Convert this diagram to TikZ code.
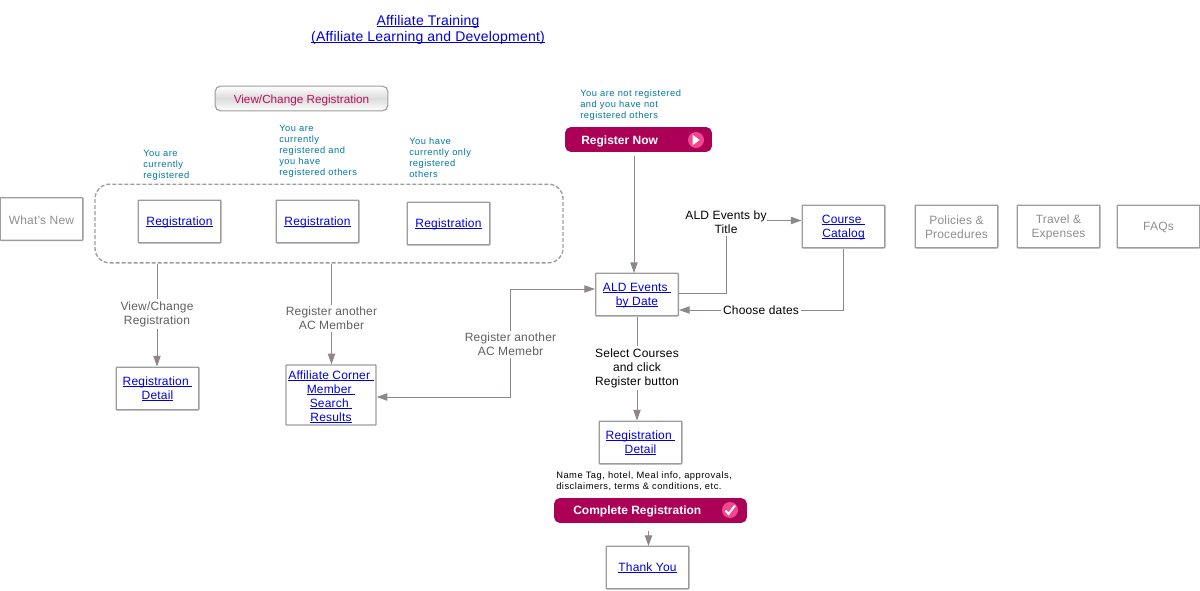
\documentclass[tikz,border=0pt]{standalone}
\usepackage{fontspec}
\setmainfont[LetterSpace=1.5,BoldFeatures={LetterSpace=0}]{Liberation Sans}
\newfontfamily\spacedfont[LetterSpace=5.5]{Liberation Sans}
\usetikzlibrary{arrows.meta}
\definecolor{linegray}{HTML}{8F8787}
\definecolor{boxgray}{HTML}{9C9C9C}
\definecolor{mutedgray}{HTML}{8E8E8E}
\definecolor{labelgray}{HTML}{5F5F5F}
\definecolor{linkblue}{HTML}{0000E0}
\definecolor{noteteal}{HTML}{00789C}
\definecolor{btnred}{HTML}{AB0056}
\definecolor{btnpink}{HTML}{F2478F}
\definecolor{viewred}{HTML}{B5115F}
\newcommand{\lnk}[1]{{\color{linkblue}\setbox0=\hbox{#1}\rlap{\rule[-1.1pt]{\wd0}{.55pt}}\box0}}
\newcommand{\down}[1]{\raisebox{-.75pt}[\height][\depth]{#1}}
\tikzset{
  box/.style={draw=boxgray, line width=1pt, rounded corners=.5pt, minimum width=62pt, minimum height=32pt, inner sep=0pt, align=center, font=\fontsize{9}{10.5}\selectfont},
  mutedbox/.style={box, text=mutedgray},
  edgelabel/.style={align=center, inner sep=1.5pt, font=\fontsize{9}{10.5}\selectfont},
  note/.style={align=left, anchor=north west, inner sep=0pt, text=noteteal, font=\fontsize{7}{8.25}\selectfont\spacedfont},
  blacknote/.style={note, text=black},
  button/.style={fill=btnred, rounded corners=4pt, minimum height=18.5pt, inner sep=0pt},
  btntext/.style={anchor=west, inner sep=0pt, text=white, font=\fontsize{9}{10.5}\selectfont\bfseries},
  btnmark/.style={circle, fill=btnpink, minimum size=12pt, inner sep=0pt},
  line/.style={draw=linegray, line width=.75pt},
  arrow/.style={line, -{Triangle[length=8pt,width=5.5pt]}},
}
\begin{document}
\begin{tikzpicture}[x=.75pt,y=-.75pt]
  \useasboundingbox (0,0) rectangle (1200,590);
  % title
  \node at (428,30) (title) [align=center, inner sep=0pt, font=\fontsize{10.5}{12}\selectfont] {\lnk{Affiliate Training}\\\lnk{(Affiliate Learning and Development)}};
  % left group
  \node at (329,223.5) (group) [draw=boxgray, dash pattern=on 3pt off 1.5pt, line width=1pt, rounded corners=11pt, minimum width=351pt, minimum height=59pt] {};
  \node at (301.5,98.5) (view) [draw=boxgray, line width=.8pt, rounded corners=4pt, minimum width=129.5pt, minimum height=18.5pt, inner sep=0pt, top color=white, bottom color=white, middle color=black!14, text=viewred, font=\fontsize{8.8}{10.5}\selectfont\addfontfeature{LetterSpace=0}] {\down{\down{View/Change Registration}}};
  \node at (143,150) (note1) [note] {You are\\currently\\registered};
  \node at (279,125) (note2) [note] {You are\\currently\\registered and\\you have\\registered others};
  \node at (409,137) (note3) [note] {You have\\currently only\\registered\\others};
  \node at (41.5,219) (whatsnew) [mutedbox] {\down{What's New}};
  \node at (179.5,221.5) (reg1) [box] {\down{\lnk{Registration}}};
  \node at (317.5,221.5) (reg2) [box] {\down{\lnk{Registration}}};
  \node at (448.5,223.5) (reg3) [box] {\down{\lnk{Registration}}};
  % left lower boxes
  \node at (157,314) (viewlabel) [edgelabel, text=labelgray] {View/Change\\Registration};
  \node at (331.5,318.5) (anotherlabel) [edgelabel, text=labelgray] {Register another\\AC Member};
  \node at (510.5,344.5) (memebrlabel) [edgelabel, text=labelgray] {Register another\\AC Memebr};
  \node at (157.5,388.5) (regdetail1) [box] {\lnk{Registration\ }\\\lnk{Detail}};
  \node at (331,395) (search) [box, minimum width=67.5pt, minimum height=45pt] {\down{\down{\lnk{Affiliate Corner\ }}}\\\down{\down{\lnk{Member\ }}}\\\down{\down{\lnk{Search\ }}}\\\down{\down{\lnk{Results}}}};
  % register column
  \node at (580,89) (note4) [note] {You are not registered\\and you have not\\registered others};
  \node at (638.5,139.5) (register) [button, minimum width=110pt] {};
  \node at (581,141) (registertext) [btntext] {Register Now};
  \node at (696,140) (registermark) [btnmark] {};
  \fill [white] (692.5,134.5) -- (699.5,140) -- (692.5,145.5) -- cycle;
  \node at (637,294.5) (events) [box] {\down{\lnk{ALD Events\ }}\\\down{\lnk{by Date}}};
  \node at (843.5,226.5) (catalog) [box] {\down{\lnk{Course\ }}\\\down{\lnk{Catalog}}};
  \node at (726,222) (titlelabel) [edgelabel] {ALD Events by\\Title};
  \node at (761,310) (dateslabel) [edgelabel] {Choose dates};
  \node at (637,368) (selectlabel) [edgelabel] {Select Courses\\and click\\Register button};
  \node at (640.5,442.5) (regdetail2) [box] {\lnk{Registration\ }\\\lnk{Detail}};
  \node at (556,471) (note5) [blacknote] {Name Tag, hotel, Meal info, approvals,\\disclaimers, terms \& conditions, etc.};
  \node at (650.5,510.5) (complete) [button, minimum width=144.5pt] {};
  \node at (573,511) (completetext) [btntext] {Complete Registration};
  \node at (730,510) (completemark) [btnmark] {};
  \draw [white, line width=1.5pt] (725.5,510.5) -- (728.5,514) -- (735,505.5);
  \node at (647.5,567.5) (thanks) [box] {\lnk{Thank You}};
  % right boxes
  \node at (956.5,226.5) (policies) [mutedbox] {\down{Policies \&}\\\down{Procedures}};
  \node at (1058.5,226.5) (travel) [mutedbox] {\down{Travel \&}\\\down{Expenses}};
  \node at (1158.5,226.5) (faqs) [mutedbox] {\down{FAQs}};
  % connectors
  \draw [line] (viewlabel |- group.south) -- (viewlabel);
  \draw [arrow] (viewlabel) -- (viewlabel |- regdetail1.north);
  \draw [line] (anotherlabel |- group.south) -- (anotherlabel);
  \draw [arrow] (anotherlabel) -- (anotherlabel |- search.north);
  \draw [arrow] (memebrlabel) |- (search.east |- 0,397);
  \draw [arrow] (memebrlabel) |- (events.west |- 0,289);
  \draw [arrow, shorten <=3pt] (634,152) -- (634,273);
  \draw [line] (events.east |- 0,293) -| (titlelabel);
  \draw [arrow] (767,220.5) -- (catalog.west |- 0,220.5);
  \draw [line] (catalog) -- (catalog |- dateslabel) -- (dateslabel);
  \draw [arrow] (dateslabel) -- (events.east |- dateslabel);
  \draw [line] (events) -- (selectlabel);
  \draw [arrow] (selectlabel) -- (selectlabel |- regdetail2.north);
  \draw [arrow, shorten <=6pt] (648.5,523) -- (648.5,546);
\end{tikzpicture}
\end{document}
